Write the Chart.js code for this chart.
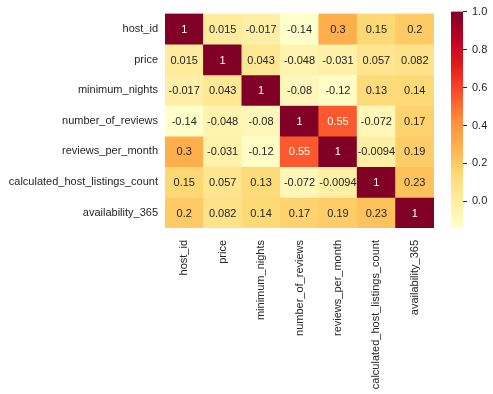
<!DOCTYPE html>
<html>
<head>
<meta charset="utf-8">
<script src="https://cdn.jsdelivr.net/npm/chart.js@4.4.0/dist/chart.umd.min.js"></script>
<style>
  html, body { margin: 0; padding: 0; background: #fff; }
  #wrap { position: relative; width: 493px; height: 394px; }
  #main { position: absolute; left: 0; top: 0; }
  #cbar { position: absolute; left: 440px; top: 0; }
</style>
</head>
<body>
<div id="wrap">
  <canvas id="main" width="493" height="394"></canvas>
  <canvas id="cbar" width="53" height="240"></canvas>
</div>
<script>
// correlation matrix (rows and columns use the same names)
const names = ["host_id", "price", "minimum_nights", "number_of_reviews",
  "reviews_per_month", "calculated_host_listings_count", "availability_365"];
const rowHostId = [1, 0.015, -0.017, -0.14, 0.3, 0.15, 0.2];
const rowPrice = [0.015, 1, 0.043, -0.048, -0.031, 0.057, 0.082];
const rowMinNights = [-0.017, 0.043, 1, -0.08, -0.12, 0.13, 0.14];
const rowNumReviews = [-0.14, -0.048, -0.08, 1, 0.55, -0.072, 0.17];
const rowReviewsMonth = [0.3, -0.031, -0.12, 0.55, 1, -0.0094, 0.19];
const rowCalcListings = [0.15, 0.057, 0.13, -0.072, -0.0094, 1, 0.23];
const rowAvailability = [0.2, 0.082, 0.14, 0.17, 0.19, 0.23, 1];
const corr = [rowHostId, rowPrice, rowMinNights, rowNumReviews,
  rowReviewsMonth, rowCalcListings, rowAvailability];
const vmin = -0.14, vmax = 1;
const cbarTicks = [0, 0.2, 0.4, 0.6, 0.8, 1.0];

// YlOrRd
const stops = ["#ffffcc", "#ffeda0", "#fed976", "#feb24c", "#fd8d3c",
  "#fc4e2a", "#e31a1c", "#bd0026", "#800026"];
const hex = h => [1, 3, 5].map(i => parseInt(h.substr(i, 2), 16));
function cmap(v) {
  let t = (v - vmin) / (vmax - vmin);
  t = Math.max(0, Math.min(1, t)) * (stops.length - 1);
  const i = Math.min(Math.floor(t), stops.length - 2);
  const f = t - i;
  const a = hex(stops[i]), b = hex(stops[i + 1]);
  const c = a.map((x, k) => Math.round(x + (b[k] - x) * f));
  return `rgb(${c[0]},${c[1]},${c[2]})`;
}
function isDark(v) {
  const c = cmap(v).match(/\d+/g).map(Number).map(x => {
    x /= 255;
    return x <= 0.03928 ? x / 12.92 : Math.pow((x + 0.055) / 1.055, 2.4);
  });
  return 0.2126 * c[0] + 0.7152 * c[1] + 0.0722 * c[2] < 0.408;
}

const font = { family: "'Liberation Sans', Arial, sans-serif", size: 11 };
const textColor = "#262626";

// cell values written in the middle of each bar
const annotate = {
  id: "annotate",
  afterDatasetsDraw(chart) {
    const ctx = chart.ctx;
    ctx.save();
    ctx.font = `${font.size}px ${font.family}`;
    ctx.textAlign = "center";
    ctx.textBaseline = "middle";
    chart.data.datasets.forEach((ds, i) => {
      chart.getDatasetMeta(i).data.forEach((el, j) => {
        const v = corr[i][j];
        ctx.fillStyle = isDark(v) ? "#ffffff" : textColor;
        ctx.fillText(String(v), el.x, (el.y + el.base) / 2 + 1);
      });
    });
    ctx.restore();
  }
};

new Chart(document.getElementById("main"), {
  type: "bar",
  data: {
    labels: names,
    datasets: corr.map((row, i) => ({
      data: row.map(() => [i, i + 1]),
      backgroundColor: row.map(cmap),
      borderWidth: 0,
      grouped: false,
      barPercentage: 1,
      categoryPercentage: 1
    }))
  },
  options: {
    responsive: false,
    animation: false,
    layout: { padding: { top: 10, right: 59, left: 0, bottom: 0 } },
    plugins: { legend: { display: false }, tooltip: { enabled: false } },
    scales: {
      x: {
        grid: { display: false, drawTicks: false },
        border: { display: false },
        ticks: { color: textColor, font: font, minRotation: 90, maxRotation: 90, padding: 12, autoSkip: false },
        afterFit: s => { s.height = 166; }
      },
      y: {
        min: 0, max: 7, reverse: true,
        grid: { display: false, drawTicks: false },
        border: { display: false },
        afterBuildTicks: s => { s.ticks = names.map((n, i) => ({ value: i + 0.5 })); },
        ticks: { color: textColor, font: font, padding: 7, callback: v => names[Math.floor(v)] },
        afterFit: s => { s.width = 165; }
      }
    }
  },
  plugins: [annotate]
});

// colour bar
new Chart(document.getElementById("cbar"), {
  type: "bar",
  data: {
    labels: [""],
    datasets: [{
      data: [[vmin, vmax]],
      borderWidth: 0,
      barPercentage: 1,
      categoryPercentage: 1,
      backgroundColor: ctx => {
        const { chart } = ctx;
        if (!chart.chartArea) return stops[4];
        const y = chart.scales.y;
        const g = chart.ctx.createLinearGradient(0, y.getPixelForValue(vmin), 0, y.getPixelForValue(vmax));
        stops.forEach((c, k) => g.addColorStop(k / (stops.length - 1), c));
        return g;
      }
    }]
  },
  options: {
    responsive: false,
    animation: false,
    layout: { padding: { top: 10, left: 11, bottom: 12, right: 0 } },
    plugins: { legend: { display: false }, tooltip: { enabled: false } },
    scales: {
      x: { display: false },
      y: {
        position: "right",
        min: vmin, max: vmax,
        grid: { display: true, drawOnChartArea: false, drawTicks: true, tickLength: 4, color: textColor, lineWidth: 1 },
        border: { display: false },
        afterBuildTicks: s => { s.ticks = cbarTicks.map(v => ({ value: v })); },
        ticks: { color: textColor, font: font, padding: 5, callback: v => v.toFixed(1) },
        afterFit: s => { s.width = 30; }
      }
    }
  }
});
</script>
</body>
</html>
